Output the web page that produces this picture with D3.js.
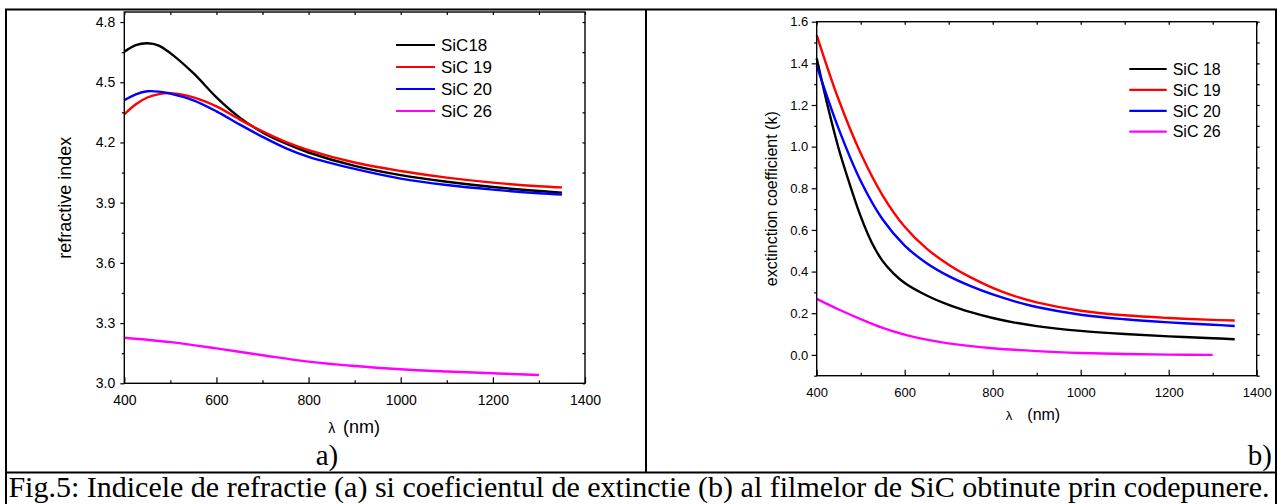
<!DOCTYPE html>
<html>
<head>
<meta charset="utf-8">
<script src="https://cdn.jsdelivr.net/npm/d3@7"></script>
<style>
  html, body { margin: 0; padding: 0; background: #fff; }
  svg { display: block; }
  text { font-family: "Liberation Sans", Arial, sans-serif; fill: #000; }
  .serif { font-family: "Liberation Serif", "Times New Roman", serif; }
</style>
</head>
<body>
<svg id="fig" width="1277" height="504"></svg>
<script>
// ---- (a) refractive index n(λ) ----
const wlN = [400, 425, 450, 475, 500, 550, 600, 650, 700, 750, 800, 900, 1000, 1100, 1200, 1300, 1350];
const nSiC18 = [4.652, 4.685, 4.694, 4.683, 4.645, 4.545, 4.425, 4.325, 4.250, 4.195, 4.150, 4.083, 4.037, 4.004, 3.978, 3.958, 3.950];
const nSiC19 = [4.340, 4.390, 4.424, 4.441, 4.446, 4.425, 4.380, 4.315, 4.255, 4.203, 4.162, 4.100, 4.058, 4.025, 4.000, 3.982, 3.976];
const nSiC20 = [4.411, 4.440, 4.455, 4.453, 4.443, 4.410, 4.355, 4.290, 4.228, 4.172, 4.128, 4.068, 4.020, 3.988, 3.965, 3.947, 3.941];
const wlN26 = [400, 500, 600, 700, 800, 900, 1000, 1100, 1200, 1300];
const nSiC26 = [3.227, 3.205, 3.174, 3.140, 3.108, 3.086, 3.070, 3.059, 3.050, 3.041];

// ---- (b) extinction coefficient k(λ) ----
const wlK18 = [400, 425, 450, 475, 500, 525, 550, 575, 600, 650, 700, 750, 800, 850, 900, 1000, 1100, 1200, 1300, 1350];
const kSiC18 = [1.424, 1.195, 0.990, 0.820, 0.665, 0.540, 0.450, 0.390, 0.345, 0.285, 0.240, 0.205, 0.177, 0.155, 0.138, 0.115, 0.100, 0.089, 0.080, 0.075];
const wlK = [400, 450, 500, 550, 600, 650, 700, 750, 800, 850, 900, 1000, 1100, 1200, 1300, 1350];
const kSiC19 = [1.536, 1.225, 0.968, 0.765, 0.615, 0.510, 0.433, 0.372, 0.322, 0.282, 0.252, 0.212, 0.190, 0.177, 0.168, 0.165];
const kSiC20 = [1.389, 1.085, 0.835, 0.650, 0.525, 0.440, 0.378, 0.330, 0.290, 0.257, 0.230, 0.193, 0.171, 0.156, 0.145, 0.139];
const wlK26 = [400, 450, 500, 550, 600, 650, 700, 800, 900, 1000, 1100, 1200, 1300];
const kSiC26 = [0.269, 0.218, 0.172, 0.130, 0.097, 0.073, 0.055, 0.032, 0.018, 0.009, 0.004, 0.001, 0.000];

// ---- labels and ticks ----
const xTicks = [400, 600, 800, 1000, 1200, 1400];
const xMinor = [500, 700, 900, 1100, 1300];
const nTicks = [3.0, 3.3, 3.6, 3.9, 4.2, 4.5, 4.8];
const nMinor = [3.15, 3.45, 3.75, 4.05, 4.35, 4.65];
const kTicks = [0.0, 0.2, 0.4, 0.6, 0.8, 1.0, 1.2, 1.4, 1.6];
const kMinor = [-0.1, 0.1, 0.3, 0.5, 0.7, 0.9, 1.1, 1.3, 1.5];
const legendA = ["SiC18", "SiC 19", "SiC 20", "SiC 26"];
const legendB = ["SiC 18", "SiC 19", "SiC 20", "SiC 26"];
const colors = ["#000000", "#ff0000", "#0000ff", "#ff00ff"];
const caption = "Fig.5: Indicele de refractie (a) si coeficientul de extinctie (b) al filmelor de SiC obtinute prin codepunere.";

const svg = d3.select("#fig");

// table frame around the two panels and the caption
const frame = svg.append("g").attr("stroke", "#000").attr("stroke-width", 2).attr("fill", "none");
frame.append("line").attr("x1", 5).attr("x2", 1277).attr("y1", 9.5).attr("y2", 9.5);
frame.append("line").attr("x1", 6).attr("x2", 6).attr("y1", 9).attr("y2", 504);
frame.append("line").attr("x1", 646).attr("x2", 646).attr("y1", 9).attr("y2", 473);
frame.append("line").attr("x1", 1276).attr("x2", 1276).attr("y1", 9).attr("y2", 504);
frame.append("line").attr("x1", 5).attr("x2", 1277).attr("y1", 472.5).attr("y2", 472.5);

function panel(cfg) {
  const g = svg.append("g");
  const x = d3.scaleLinear().domain([400, 1400]).range([cfg.left, cfg.right]);
  const y = d3.scaleLinear().domain(cfg.yDomain).range([cfg.bottom, cfg.top]);
  const fmtY = d3.format(".1f");

  // curves
  const line = d3.line().x(d => x(d[0])).y(d => y(d[1])).curve(d3.curveCatmullRom.alpha(0.5));
  cfg.series.forEach((s, i) => {
    g.append("path")
      .datum(s.wl.map((w, j) => [w, s.v[j]]))
      .attr("fill", "none")
      .attr("stroke", colors[i])
      .attr("stroke-width", 2.4)
      .attr("d", line);
  });

  // bottom axis, ticks pointing into the plot
  const bottom = g.append("g").attr("transform", `translate(0,${cfg.bottom})`);
  bottom.call(d3.axisBottom(x).tickValues(xTicks).tickSizeInner(-6).tickSizeOuter(0)
    .tickPadding(cfg.xPad).tickFormat(d3.format("d")));
  bottom.append("g").call(d3.axisBottom(x).tickValues(xMinor).tickSizeInner(-3).tickSizeOuter(0).tickFormat(""));
  // top ticks
  const top = g.append("g").attr("transform", `translate(0,${cfg.top})`);
  top.call(d3.axisTop(x).tickValues(xTicks.concat(xMinor)).tickSizeInner(-3).tickSizeOuter(0).tickFormat(""));

  // left axis, ticks pointing outward
  const leftAx = g.append("g").attr("transform", `translate(${cfg.left},0)`);
  leftAx.call(d3.axisLeft(y).tickValues(cfg.yTicks).tickSizeInner(cfg.yTick).tickSizeOuter(0)
    .tickPadding(cfg.yPad).tickFormat(fmtY));
  leftAx.append("g").call(d3.axisLeft(y).tickValues(cfg.yMinor).tickSizeInner(2.5).tickSizeOuter(0).tickFormat(""));
  // right ticks
  const rightAx = g.append("g").attr("transform", `translate(${cfg.right},0)`);
  rightAx.call(d3.axisRight(y).tickValues(cfg.yTicks.concat(cfg.yMinor)).tickSizeInner(cfg.rightTick).tickSizeOuter(0).tickFormat(""));

  g.selectAll(".domain").remove();
  g.selectAll(".tick line").attr("stroke", "#000").attr("stroke-width", 1.2);
  bottom.selectAll("text").style("font-size", cfg.tickFont + "px").style("font-family", "Liberation Sans, Arial, sans-serif");
  leftAx.selectAll("text").style("font-size", cfg.tickFont + "px").style("font-family", "Liberation Sans, Arial, sans-serif");

  // plot frame
  g.append("rect")
    .attr("x", cfg.left).attr("y", cfg.top)
    .attr("width", cfg.right - cfg.left).attr("height", cfg.bottom - cfg.top)
    .attr("fill", "none").attr("stroke", "#000").attr("stroke-width", 1.4);

  // axis titles
  const cx = (cfg.left + cfg.right) / 2;
  g.append("text").attr("x", cx + cfg.lamDx).attr("y", cfg.xTitleY)
    .attr("text-anchor", "middle").style("font-size", cfg.lamFont + "px").text("λ");
  g.append("text").attr("x", cx + cfg.nmDx).attr("y", cfg.xTitleY)
    .style("font-size", cfg.titleFont + "px").text("(nm)");
  g.append("text")
    .attr("transform", `translate(${cfg.yTitleX},${(cfg.top + cfg.bottom) / 2}) rotate(-90)`)
    .attr("text-anchor", "middle").style("font-size", cfg.titleFont + "px").text(cfg.yTitle);

  // legend
  const lg = g.append("g");
  cfg.legend.forEach((name, i) => {
    const ly = cfg.legY + i * cfg.legStep;
    lg.append("line").attr("x1", cfg.legX).attr("x2", cfg.legX + cfg.legLen)
      .attr("y1", ly).attr("y2", ly).attr("stroke", colors[i]).attr("stroke-width", 2.2);
    lg.append("text").attr("x", cfg.legX + cfg.legLen + 6).attr("y", ly).attr("dy", "0.36em")
      .style("font-size", cfg.legFont + "px").text(name);
  });
}

panel({
  left: 124.3, right: 585, top: 12, bottom: 383.3,
  yDomain: [3.0, 4.85], yTicks: nTicks, yMinor: nMinor,
  yTick: 4, yPad: 5, rightTick: -2.5, xPad: 11.5, tickFont: 14,
  series: [
    { wl: wlN, v: nSiC18 }, { wl: wlN, v: nSiC19 },
    { wl: wlN, v: nSiC20 }, { wl: wlN26, v: nSiC26 }
  ],
  yTitle: "refractive index", yTitleX: 71, titleFont: 18,
  xTitleY: 433, lamDx: -23, nmDx: -11.6, lamFont: 14,
  legend: legendA, legX: 396, legLen: 39, legY: 45, legStep: 22, legFont: 17
});

panel({
  left: 816.7, right: 1256.7, top: 21.7, bottom: 375.7,
  yDomain: [-0.1, 1.6], yTicks: kTicks, yMinor: kMinor,
  yTick: 5, yPad: 3.4, rightTick: 3, xPad: 12, tickFont: 13,
  series: [
    { wl: wlK18, v: kSiC18 }, { wl: wlK, v: kSiC19 },
    { wl: wlK, v: kSiC20 }, { wl: wlK26, v: kSiC26 }
  ],
  yTitle: "exctinction coefficient (k)", yTitleX: 777, titleFont: 16,
  xTitleY: 420, lamDx: -27.7, nmDx: -9.4, lamFont: 13,
  legend: legendB, legX: 1129.3, legLen: 37.4, legY: 69, legStep: 20.9, legFont: 16
});

// panel tags and caption
svg.append("text").attr("class", "serif").attr("x", 327).attr("y", 465)
  .attr("text-anchor", "middle").style("font-size", "29px").text("a)");
svg.append("text").attr("class", "serif").attr("x", 1272).attr("y", 465)
  .attr("text-anchor", "end").style("font-size", "29px").text("b)");
svg.append("text").attr("class", "serif").attr("x", 639).attr("y", 497)
  .attr("text-anchor", "middle").style("font-size", "30px").text(caption);
</script>
</body>
</html>
